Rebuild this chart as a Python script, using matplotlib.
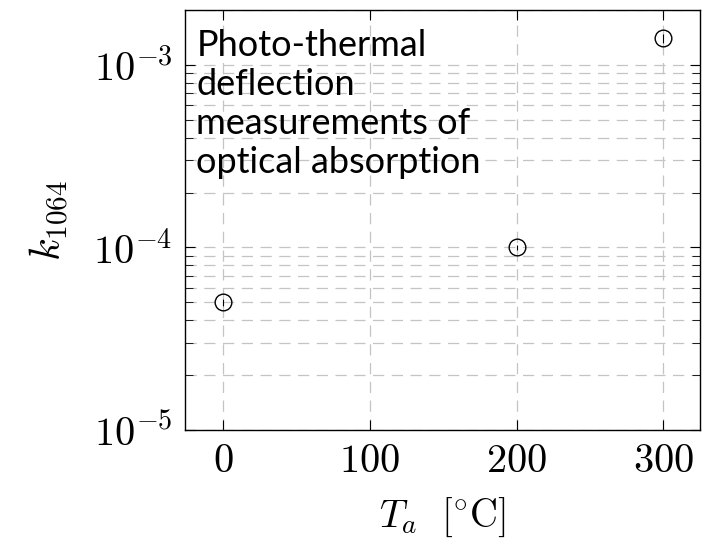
import numpy as np
import matplotlib.pyplot as plt
from matplotlib.ticker import LogLocator, NullFormatter

plt.rcParams["mathtext.fontset"] = "cm"
plt.rcParams["font.family"] = "DejaVu Serif"

# annealing temperature [C] and extinction coefficient at 1064 nm
temps = [0, 200, 300]
k1064 = [5.0e-5, 1.0e-4, 1.4e-3]
k_err = [2.0e-6, 3.0e-6, 8.0e-5]

note = "Photo-thermal\ndeflection\nmeasurements of\noptical absorption"

fig = plt.figure(figsize=(7.07, 5.44), dpi=100)
ax = fig.add_axes([185 / 707, 1 - 430 / 544, 515 / 707, 420 / 544])

ax.errorbar(temps, k1064, yerr=k_err, fmt="o", mfc="none", mec="black",
            ecolor="black", ms=12, mew=1.0, elinewidth=0.8, capsize=0, zorder=3)

ax.set_yscale("log")
ax.set_xlim(-26, 325)
ax.set_ylim(1e-5, 2e-3)
ax.set_xticks([0, 100, 200, 300])
ax.set_xticklabels([r"$0$", r"$100$", r"$200$", r"$300$"])
ax.set_yticks([1e-5, 1e-4, 1e-3])
ax.set_yticklabels([r"$10^{-5}$", r"$10^{-4}$", r"$10^{-3}$"])
ax.yaxis.set_minor_locator(LogLocator(base=10, subs=np.arange(2, 10)))
ax.yaxis.set_minor_formatter(NullFormatter())

ax.tick_params(which="both", direction="in", top=True, right=True,
               labelsize=29, pad=9)
ax.tick_params(which="major", length=7, width=0.8)
ax.tick_params(which="minor", length=6, width=0.6)

ax.grid(True, which="major", axis="both", color="#c4c4c4", ls=(0, (9, 6)), lw=0.9)
ax.grid(True, which="minor", axis="y", color="#c4c4c4", ls=(0, (9, 6)), lw=0.9)
ax.set_axisbelow(True)
for s in ax.spines.values():
    s.set_linewidth(1.0)

ax.set_xlabel(r"$T_a\ \ [^{\circ}\mathrm{C}]$", fontsize=28, labelpad=12)
ax.set_ylabel(r"$k_{1064}$", fontsize=30, labelpad=16)

ax.text(0.022, 0.955, note, transform=ax.transAxes, ha="left", va="top",
        fontsize=26, family="Lato", linespacing=1.22, zorder=4)

fig.savefig("out.png", dpi=100)
